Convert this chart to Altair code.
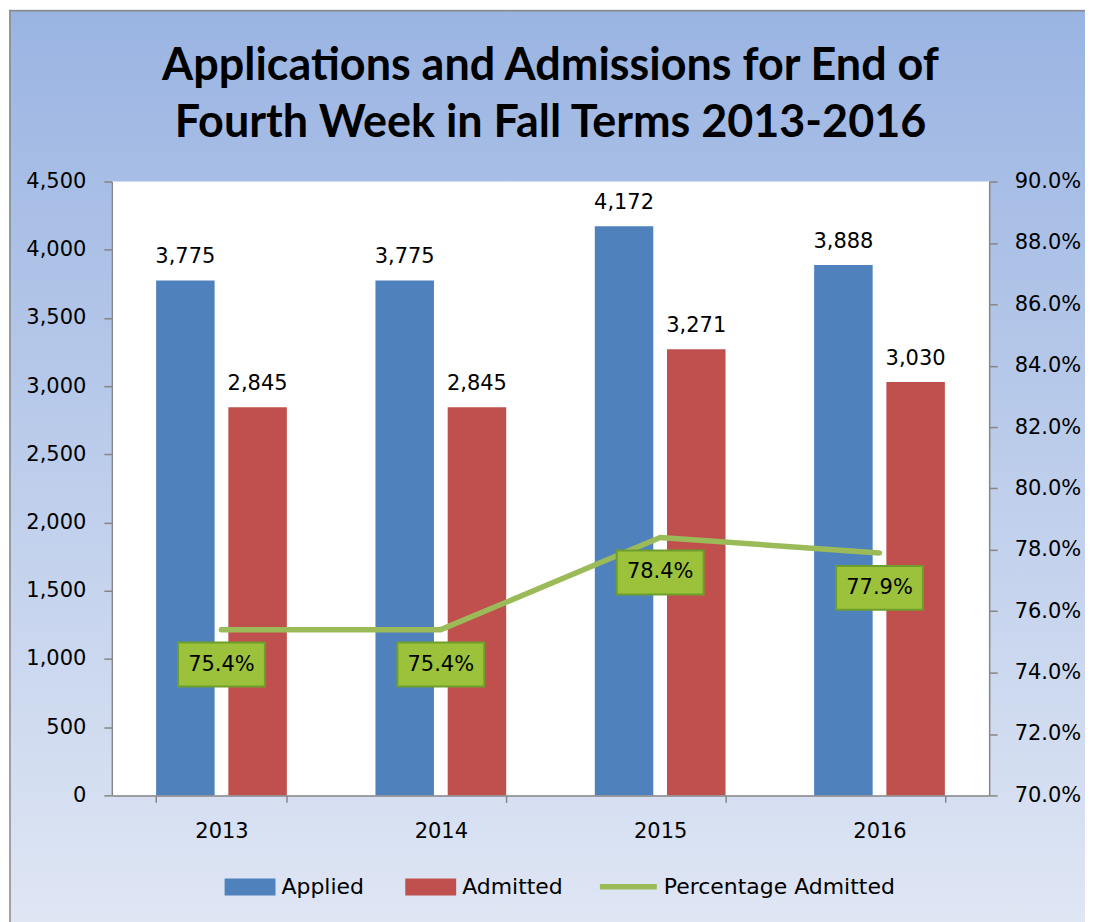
import altair as alt
import pandas as pd

# ---------------- data ----------------
years = ["2013", "2014", "2015", "2016"]
applied = [3775, 3775, 4172, 3888]
admitted = [2845, 2845, 3271, 3030]
pct_admitted = [0.754, 0.754, 0.784, 0.779]
bar_series = ["Applied", "Admitted"]
line_series = "Percentage Admitted"
left_ticks = [0, 500, 1000, 1500, 2000, 2500, 3000, 3500, 4000, 4500]
right_ticks = [0.70, 0.72, 0.74, 0.76, 0.78, 0.80, 0.82, 0.84, 0.86, 0.88, 0.90]
title_lines = ["Applications and Admissions for End of",
               "Fourth Week in Fall Terms 2013-2016"]

W, H = 879, 615
FONT = "DejaVu Sans"
GREY = "#868686"

bars_df = pd.DataFrame({
    "year": years * 2,
    "series": [bar_series[0]] * len(years) + [bar_series[1]] * len(years),
    "value": applied + admitted,
})
line_df = pd.DataFrame({"year": years, "pct": pct_admitted,
                        "series": [line_series] * len(years)})
one = pd.DataFrame({"k": [0]})

x_axis = alt.Axis(title=None, labelAngle=0, tickBand="extent", tickSize=7,
                  labelPadding=18, labelFontSize=21, labelFont=FONT,
                  labelColor="black", domainColor=GREY, tickColor=GREY,
                  domainWidth=1.5, tickWidth=1.5, grid=False, zindex=2)
x_scale = alt.Scale(paddingInner=0.404, paddingOuter=0.202)
x_enc = alt.X("year:N", sort=years, scale=x_scale, axis=x_axis)
xo_enc = alt.XOffset("series:N", sort=bar_series,
                     scale=alt.Scale(paddingInner=0.19, paddingOuter=0))

y_left = alt.Y("value:Q", scale=alt.Scale(domain=[0, 4500], nice=False),
               axis=alt.Axis(orient="left", values=left_ticks, format=",.0f",
                             title=None, tickSize=8, labelPadding=18,
                             labelFontSize=21, labelFont=FONT, labelColor="black",
                             domainColor=GREY, tickColor=GREY, domainWidth=1.5,
                             tickWidth=1.5, grid=False, zindex=2))
y_right = alt.Y("pct:Q", scale=alt.Scale(domain=[0.70, 0.90], nice=False),
                axis=alt.Axis(orient="right", values=right_ticks, format=".1%",
                              title=None, tickSize=8, labelPadding=17,
                              labelFontSize=21, labelFont=FONT, labelColor="black",
                              domainColor=GREY, tickColor=GREY, domainWidth=1.5,
                              tickWidth=1.5, grid=False, zindex=2))

# ---------------- background ----------------
bg = alt.Chart(one).mark_rect(
    color=alt.Gradient(gradient="linear",
                       stops=[alt.GradientStop(color="#9ab4e2", offset=0),
                              alt.GradientStop(color="#dfe6f4", offset=1)],
                       x1=0, x2=0, y1=0, y2=1),
).encode(x=alt.value(-103), x2=alt.value(975), y=alt.value(-172), y2=alt.value(742))

border_left = alt.Chart(one).mark_rule(color="#8a8a8a", strokeWidth=1.5).encode(
    x=alt.value(-102), y=alt.value(-172), y2=alt.value(742))
border_top = alt.Chart(one).mark_rule(color="#8a8a8a", strokeWidth=1.5).encode(
    x=alt.value(-103), x2=alt.value(975), y=alt.value(-171))

plot_bg = alt.Chart(one).mark_rect(color="white").encode(
    x=alt.value(0), x2=alt.value(W), y=alt.value(0), y2=alt.value(H))

title = alt.Chart(one).mark_text(
    text=title_lines, font="Lato", fontWeight="bold",
    fontSize=45, lineHeight=57, align="center", baseline="alphabetic",
    color="black",
).encode(x=alt.value(W / 2), y=alt.value(-102))

# ---------------- bars ----------------
bars = alt.Chart(bars_df).mark_bar().encode(
    x=x_enc, xOffset=xo_enc, y=y_left,
    color=alt.Color("series:N", sort=bar_series,
                    scale=alt.Scale(domain=bar_series, range=["#4F81BD", "#C0504D"]),
                    legend=alt.Legend(title=None, orient="none", legendX=113,
                                      legendY=681, direction="horizontal",
                                      symbolType="M-1,-0.333H1V0.333H-1Z",
                                      symbolSize=2601, symbolStrokeWidth=0,
                                      labelFont=FONT, labelFontSize=22,
                                      labelColor="black", labelOffset=6,
                                      columnPadding=41, labelLimit=400)),
)
bar_labels = alt.Chart(bars_df).mark_text(
    baseline="alphabetic", dy=-17, font=FONT, fontSize=21, color="black"
).encode(x=x_enc, xOffset=xo_enc, y=y_left,
         text=alt.Text("value:Q", format=","))

# ---------------- line ----------------
line = alt.Chart(line_df).mark_line(
    strokeWidth=5.5, strokeCap="round", strokeJoin="round"
).encode(
    x=x_enc, y=y_right,
    stroke=alt.Stroke("series:N",
                      scale=alt.Scale(domain=[line_series], range=["#9BBB59"]),
                      legend=alt.Legend(title=None, orient="none", legendX=486,
                                        legendY=675, symbolType="stroke",
                                        symbolSize=3249, symbolStrokeWidth=5.5,
                                        labelFont=FONT, labelFontSize=22,
                                        labelColor="black", labelOffset=4,
                                        labelLimit=400)),
)
boxes = alt.Chart(line_df).mark_point(
    shape="M-1,-0.506H1V0.506H-1Z", size=7569, filled=True, fill="#9BC23A",
    stroke="#6E9F2C", strokeWidth=2, opacity=1, yOffset=35
).encode(x=x_enc, y=y_right)
pct_labels = alt.Chart(line_df).mark_text(
    dy=35, baseline="middle", font=FONT, fontSize=21, color="black"
).encode(x=x_enc, y=y_right, text=alt.Text("pct:Q", format=".1%"))

chart = alt.layer(
    bg, border_left, border_top, plot_bg, title,
    alt.layer(bars, bar_labels),
    alt.layer(line, boxes, pct_labels),
).resolve_scale(y="independent").properties(
    width=W, height=H, padding=0
).configure_view(stroke="transparent")

chart.save("out.html", embed_options={"renderer": "svg", "actions": False})
